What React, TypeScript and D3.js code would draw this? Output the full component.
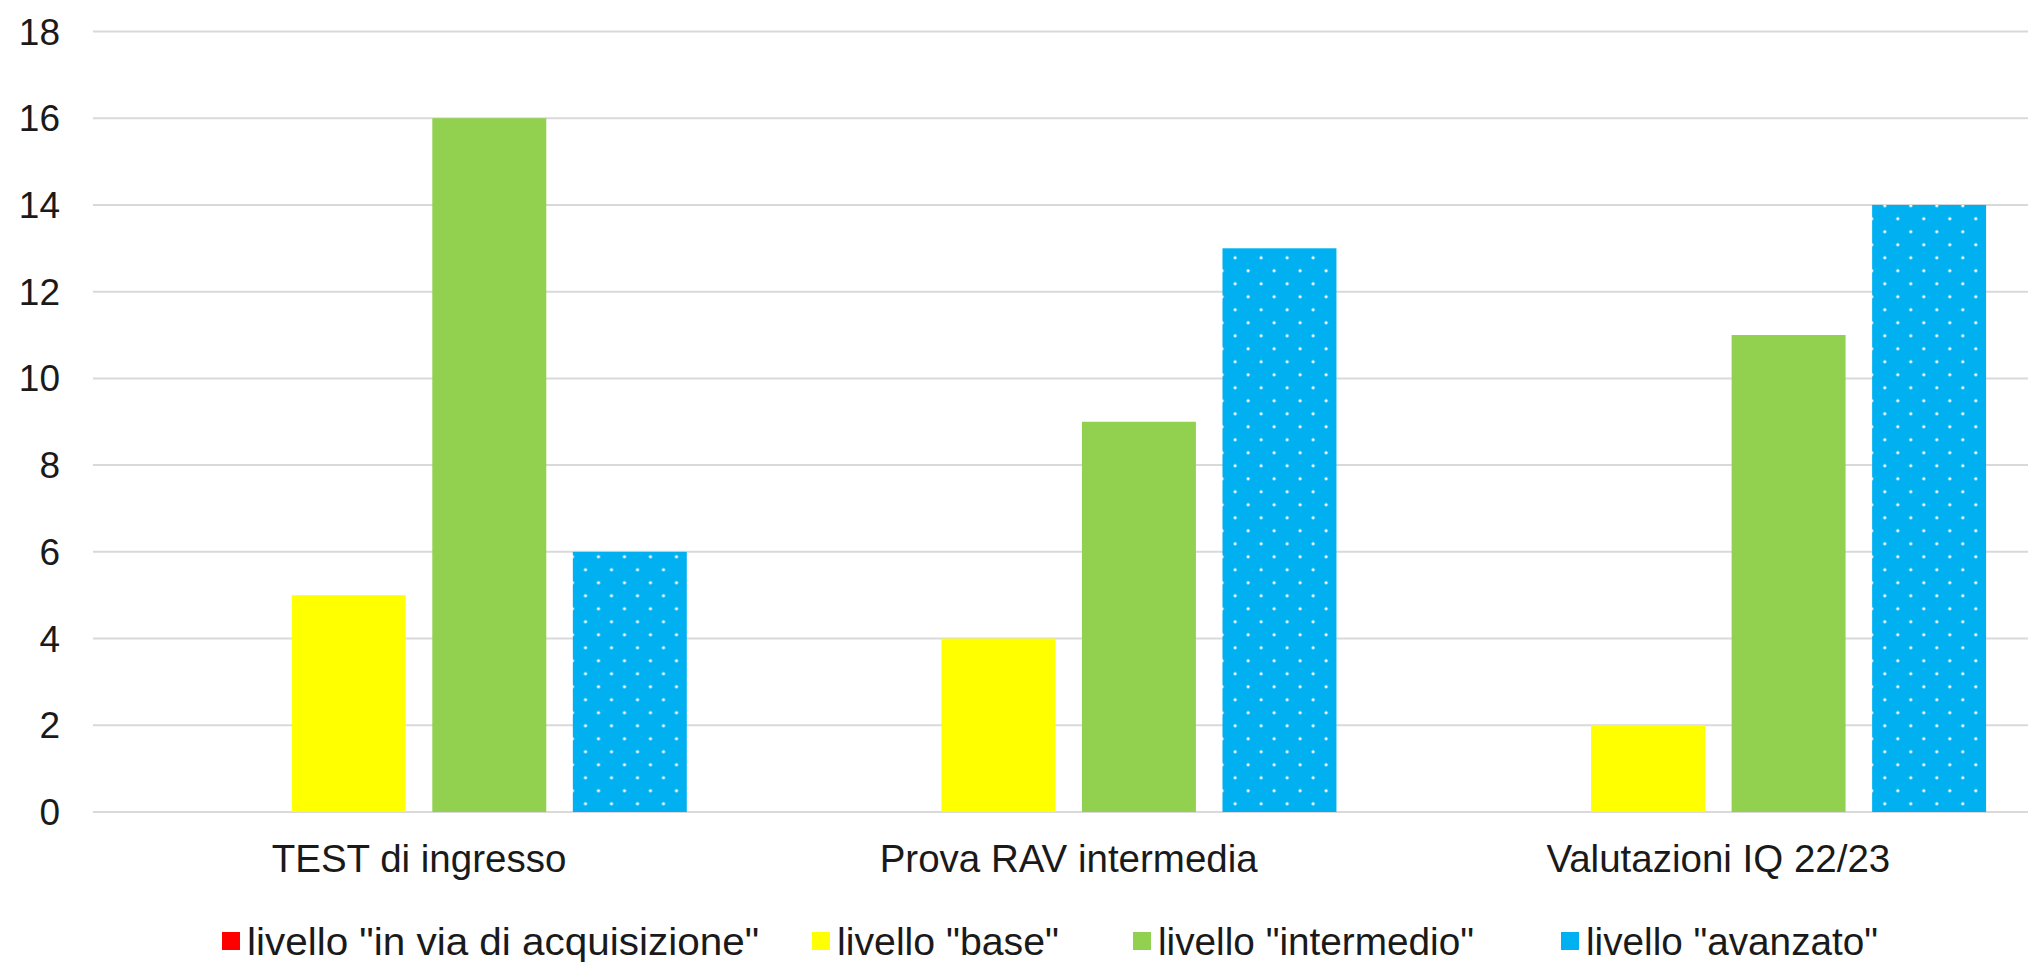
import React from "react";
import * as d3 from "d3";

const categories = ["TEST di ingresso", "Prova RAV intermedia", "Valutazioni IQ 22/23"];
const seriesNames = [
  'livello "in via di acquisizione"',
  'livello "base"',
  'livello "intermedio"',
  'livello "avanzato"',
];
const seriesColors = ["#FF0000", "#FFFF00", "#92D050", "#00B0F0"];
const inViaValues = [0, 0, 0];
const baseValues = [5, 4, 2];
const intermedioValues = [16, 9, 11];
const avanzatoValues = [6, 13, 14];
const yTicks = [0, 2, 4, 6, 8, 10, 12, 14, 16, 18];

const legendX = [222, 812, 1133, 1561];
const legendTextLen = [512, 222, 316, 292];

export default function App() {
  const W = 2028;
  const H = 962;
  const seriesValues = [inViaValues, baseValues, intermedioValues, avanzatoValues];
  const x0 = d3.scaleBand<string>().domain(categories).range([94.2, 94.2 + 3 * 649.65]).padding(0);
  const x1 = d3
    .scaleBand<string>()
    .domain(seriesNames)
    .range([0, x0.bandwidth()])
    .paddingInner(0.189)
    .paddingOuter(0.406);
  const y = d3.scaleLinear().domain([0, 18]).range([812, 31.5]);
  const font = "Liberation Sans, Arial, sans-serif";
  const textColor = "#1a1a1a";

  return (
    <svg
      width={W}
      height={H}
      style={{ position: "absolute", left: 0, top: 0, background: "#fff", overflow: "hidden" }}
    >
      <defs>
        <pattern id="dots" patternUnits="userSpaceOnUse" width={26} height={26} x={582.3} y={556.7}>
          <rect width={26} height={26} fill="#00B0F0" />
          <circle cx={0} cy={0} r={1.6} fill="#fff" />
          <circle cx={26} cy={0} r={1.6} fill="#fff" />
          <circle cx={0} cy={26} r={1.6} fill="#fff" />
          <circle cx={26} cy={26} r={1.6} fill="#fff" />
          <circle cx={13} cy={13} r={1.6} fill="#fff" />
        </pattern>
      </defs>
      <rect width={W} height={H} fill="#fff" />
      {yTicks.map((t) => (
        <g key={t}>
          <line x1={93} x2={W} y1={y(t)} y2={y(t)} stroke="#d9d9d9" strokeWidth={2} />
          <text
            x={60}
            y={y(t) + 13}
            textAnchor="end"
            fontFamily={font}
            fontSize={37}
            fill={textColor}
          >
            {t}
          </text>
        </g>
      ))}
      {categories.map((c, ci) => (
        <g key={c} transform={`translate(${x0(c)},0)`}>
          {seriesNames.map((s, si) => {
            const v = seriesValues[si][ci];
            if (v <= 0) return null;
            return (
              <rect
                key={s}
                x={x1(s)}
                y={y(v)}
                width={x1.bandwidth()}
                height={y(0) - y(v)}
                fill={si === 3 ? "url(#dots)" : seriesColors[si]}
              />
            );
          })}
          <text
            x={x0.bandwidth() / 2}
            y={872}
            textAnchor="middle"
            fontFamily={font}
            fontSize={38.5}
            fill={textColor}
          >
            {c}
          </text>
        </g>
      ))}
      {seriesNames.map((s, si) => (
        <g key={s}>
          <rect x={legendX[si]} y={932} width={18} height={18} fill={seriesColors[si]} />
          <text
            x={legendX[si] + 25}
            y={955}
            fontFamily={font}
            fontSize={38}
            fill={textColor}
            textLength={legendTextLen[si]}
            lengthAdjust="spacingAndGlyphs"
          >
            {s}
          </text>
        </g>
      ))}
    </svg>
  );
}
